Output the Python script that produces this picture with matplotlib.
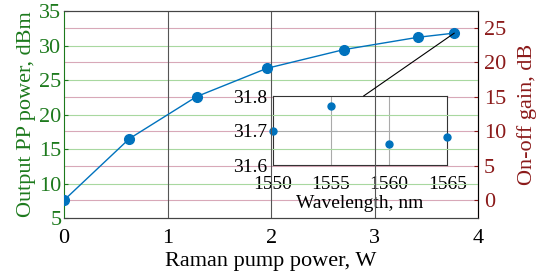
import matplotlib.pyplot as plt

# data
pump_w = [0, 0.63, 1.28, 1.96, 2.70, 3.42, 3.77]
pp_dbm = [7.6, 16.5, 22.6, 26.7, 29.4, 31.2, 31.8]
pp_zero = 7.6  # on-off gain = PP - PP(0)

wl_nm = [1550, 1555, 1560, 1565]
pp_wl = [31.70, 31.77, 31.66, 31.68]

green = '#1d7a1d'
red = '#8b1a1a'
blue = '#0072BD'

plt.rcParams['font.family'] = ['Liberation Serif', 'DejaVu Serif']
plt.rcParams['font.size'] = 16

fig = plt.figure(figsize=(5.39, 2.76), dpi=100)
ax = fig.add_axes([0.119, 0.210, 0.768, 0.750])
ax2 = ax.twinx()

ax.set_xlim(0, 4)
ax.set_ylim(5, 35)
ax2.set_ylim(5 - pp_zero, 35 - pp_zero)

ax.set_xticks([0, 1, 2, 3, 4])
ax.set_yticks(range(5, 36, 5))
ax2.set_yticks(range(0, 26, 5))

# grid lines
for v in range(10, 35, 5):
    ax.axhline(v, color='#a8d8a0', lw=0.8, zorder=0)
for v in range(0, 26, 5):
    ax2.axhline(v, color='#d8a8b8', lw=0.8, zorder=0)
for v in [1, 2, 3]:
    ax.axvline(v, color='#555555', lw=0.8, zorder=0)

ax.plot(pump_w, pp_dbm, color=blue, lw=1, marker='o', markersize=7, zorder=3)

ax.set_xlabel('Raman pump power, W', labelpad=3)
ax.set_ylabel('Output PP power, dBm', color=green, labelpad=2)
ax2.set_ylabel('On-off gain, dB', color=red, labelpad=8)

ax.tick_params(axis='y', colors=green, direction='in', length=3, pad=2)
ax.tick_params(axis='x', direction='in', length=0, pad=8)
ax2.tick_params(axis='y', colors=red, direction='in', length=3, pad=4)
ax.spines['left'].set_color(green)
ax2.spines['left'].set_visible(False)
ax2.spines['right'].set_color(red)
for s in ['top', 'bottom']:
    ax.spines[s].set_color('#444444')
    ax2.spines[s].set_color('#444444')
ax.set_zorder(ax2.get_zorder() + 1)
ax.patch.set_visible(False)

# inset
ins = fig.add_axes([0.506, 0.402, 0.324, 0.250])
ins.set_xlim(1550, 1565)
ins.set_ylim(31.6, 31.8)
ins.set_xticks(wl_nm)
ins.set_yticks([31.6, 31.7, 31.8])
for v in [1555, 1560]:
    ins.axvline(v, color='#aaaaaa', lw=0.8, zorder=0)
ins.axhline(31.7, color='#aaaaaa', lw=0.8, zorder=0)
ins.plot(wl_nm, pp_wl, 'o', color=blue, markersize=5, clip_on=False, zorder=3)
ins.tick_params(length=0, labelsize=14)
ins.tick_params(axis='x', pad=8)
ins.tick_params(axis='y', pad=4)
ins.set_xlabel('Wavelength, nm', labelpad=1, fontsize=14)
for s in ins.spines.values():
    s.set_color('#333333')

# connector from last point to the inset
ax.annotate('', xy=(pump_w[-1], pp_dbm[-1]), xytext=(0.52, 1.0),
            textcoords=ins.transAxes,
            arrowprops=dict(arrowstyle='-', color='black', lw=0.8,
                            shrinkA=0, shrinkB=0))

plt.savefig('out.png', dpi=100)
